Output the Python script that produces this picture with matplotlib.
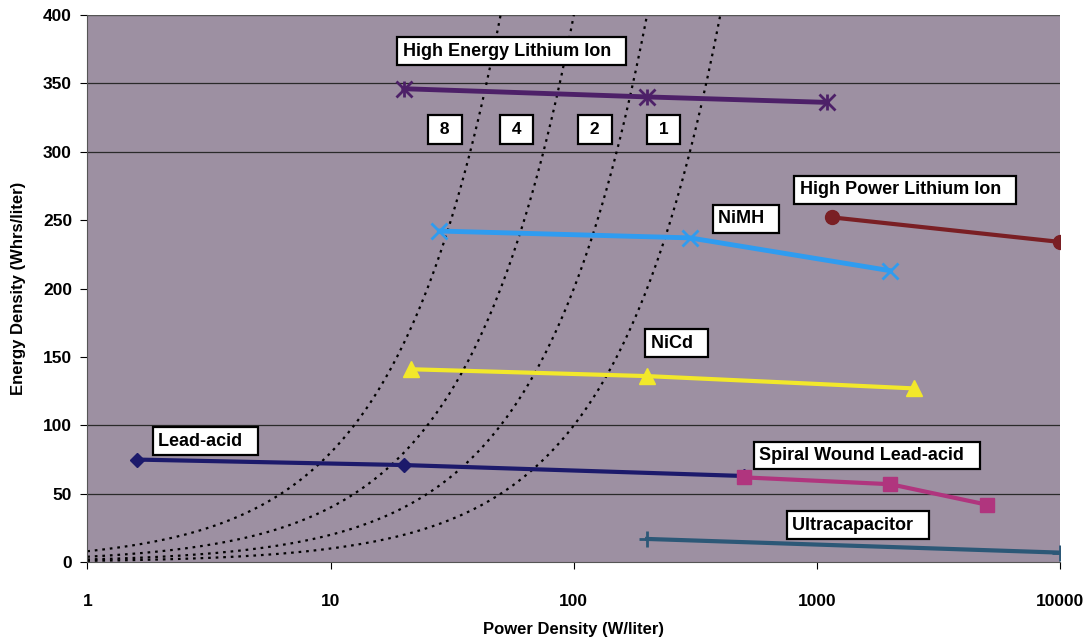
import numpy as np
import matplotlib.pyplot as plt

plt.rcParams['font.family'] = ['Liberation Sans', 'DejaVu Sans']
plt.rcParams['font.weight'] = 'bold'

# battery technologies: power density (W/liter) vs energy density (Whrs/liter)
he_li_x = [20, 200, 1100]
he_li_y = [346, 340, 336]
hp_li_x = [1150, 10000]
hp_li_y = [252, 234]
nimh_x = [28, 300, 2000]
nimh_y = [242, 237, 213]
nicd_x = [21.5, 200, 2500]
nicd_y = [141, 136, 127]
lead_x = [1.6, 20, 500]
lead_y = [75, 71, 63]
spiral_x = [500, 2000, 5000]
spiral_y = [62, 57, 42]
ucap_x = [200, 10000]
ucap_y = [17, 7]

# discharge time lines (hours)
hours = [8, 4, 2, 1]
hour_label_x = [29.5, 58, 122, 234]

fig = plt.figure(figsize=(10.91, 6.44), dpi=100)
ax = fig.add_axes([0.080, 0.127, 0.892, 0.850])
ax.set_facecolor('#9d90a2')

ax.set_xscale('log')
ax.set_xlim(1, 10000)
ax.set_ylim(0, 400)

for v in [50, 100, 300, 350]:
    ax.axhline(v, color='#2a2a2a', lw=0.9, zorder=1)

# constant run-time curves E = P * t
for t, lx in zip(hours, hour_label_x):
    p = np.logspace(0, np.log10(400 / t), 200)
    ax.plot(p, p * t, color='black', ls=(0, (1.2, 2.2)), lw=1.6, zorder=2)
    ax.text(lx, 316, ' %d ' % t, fontsize=12.5, ha='center', va='center', zorder=6,
            bbox=dict(boxstyle='square,pad=0.4', fc='white', ec='black', lw=1.6))

ax.plot(lead_x, lead_y, color='#1c1a6b', lw=3, marker='D', ms=7, zorder=3)
ax.plot(spiral_x, spiral_y, color='#b0357e', lw=3, marker='s', ms=10, zorder=4)
ax.plot(ucap_x, ucap_y, color='#2c5877', lw=3, marker='+', ms=12, mew=2, zorder=3)
ax.plot(nicd_x, nicd_y, color='#f2e82a', lw=3, marker='^', ms=11, zorder=3)
ax.plot(nimh_x, nimh_y, color='#2f9cf0', lw=3.5, marker='x', ms=12, mew=2, zorder=3)
ax.plot(hp_li_x, hp_li_y, color='#7a1f24', lw=3, marker='o', ms=10, zorder=3)
ax.plot(he_li_x, he_li_y, color='#4d2068', lw=3.5, marker='x', ms=12, mew=2, zorder=3)
ax.plot(he_li_x, he_li_y, ls='none', color='#4d2068', marker='|', ms=12, mew=2, zorder=3)

box = dict(boxstyle='square,pad=0.3', fc='white', ec='black', lw=1.6)
labels = [
    ('High Energy Lithium Ion', 55.6, 373.5),
    ('High Power Lithium Ion', 2300, 272),
    ('NiMH', 510, 251),
    ('NiCd', 265, 160),
    ('Lead-acid', 3.05, 88.5),
    ('Spiral Wound Lead-acid', 1600, 78),
    ('Ultracapacitor', 1470, 27),
]
for txt, x, y in labels:
    ax.text(x, y, txt + '  ', fontsize=13, ha='center', va='center', bbox=box, zorder=6)

ax.set_yticks(range(0, 401, 50))
ax.set_xticks([1, 10, 100, 1000, 10000])
ax.set_xticklabels(['1', '10', '100', '1000', '10000'])
ax.minorticks_off()
ax.tick_params(axis='x', length=5, pad=18, labelsize=12.5)
ax.tick_params(axis='y', length=5, pad=6, labelsize=12.5)
for s in ['top', 'right']:
    ax.spines[s].set_visible(False)
ax.spines['left'].set_color('#555555')
ax.spines['bottom'].set_color('#555555')
ax.axhline(400, color='#555555', lw=1, zorder=1)

ax.set_xlabel('Power Density (W/liter)', fontsize=12, fontweight='bold', labelpad=9)
ax.set_ylabel('Energy Density (Whrs/liter)', fontsize=12, fontweight='bold', labelpad=12)

fig.savefig('out.png')
